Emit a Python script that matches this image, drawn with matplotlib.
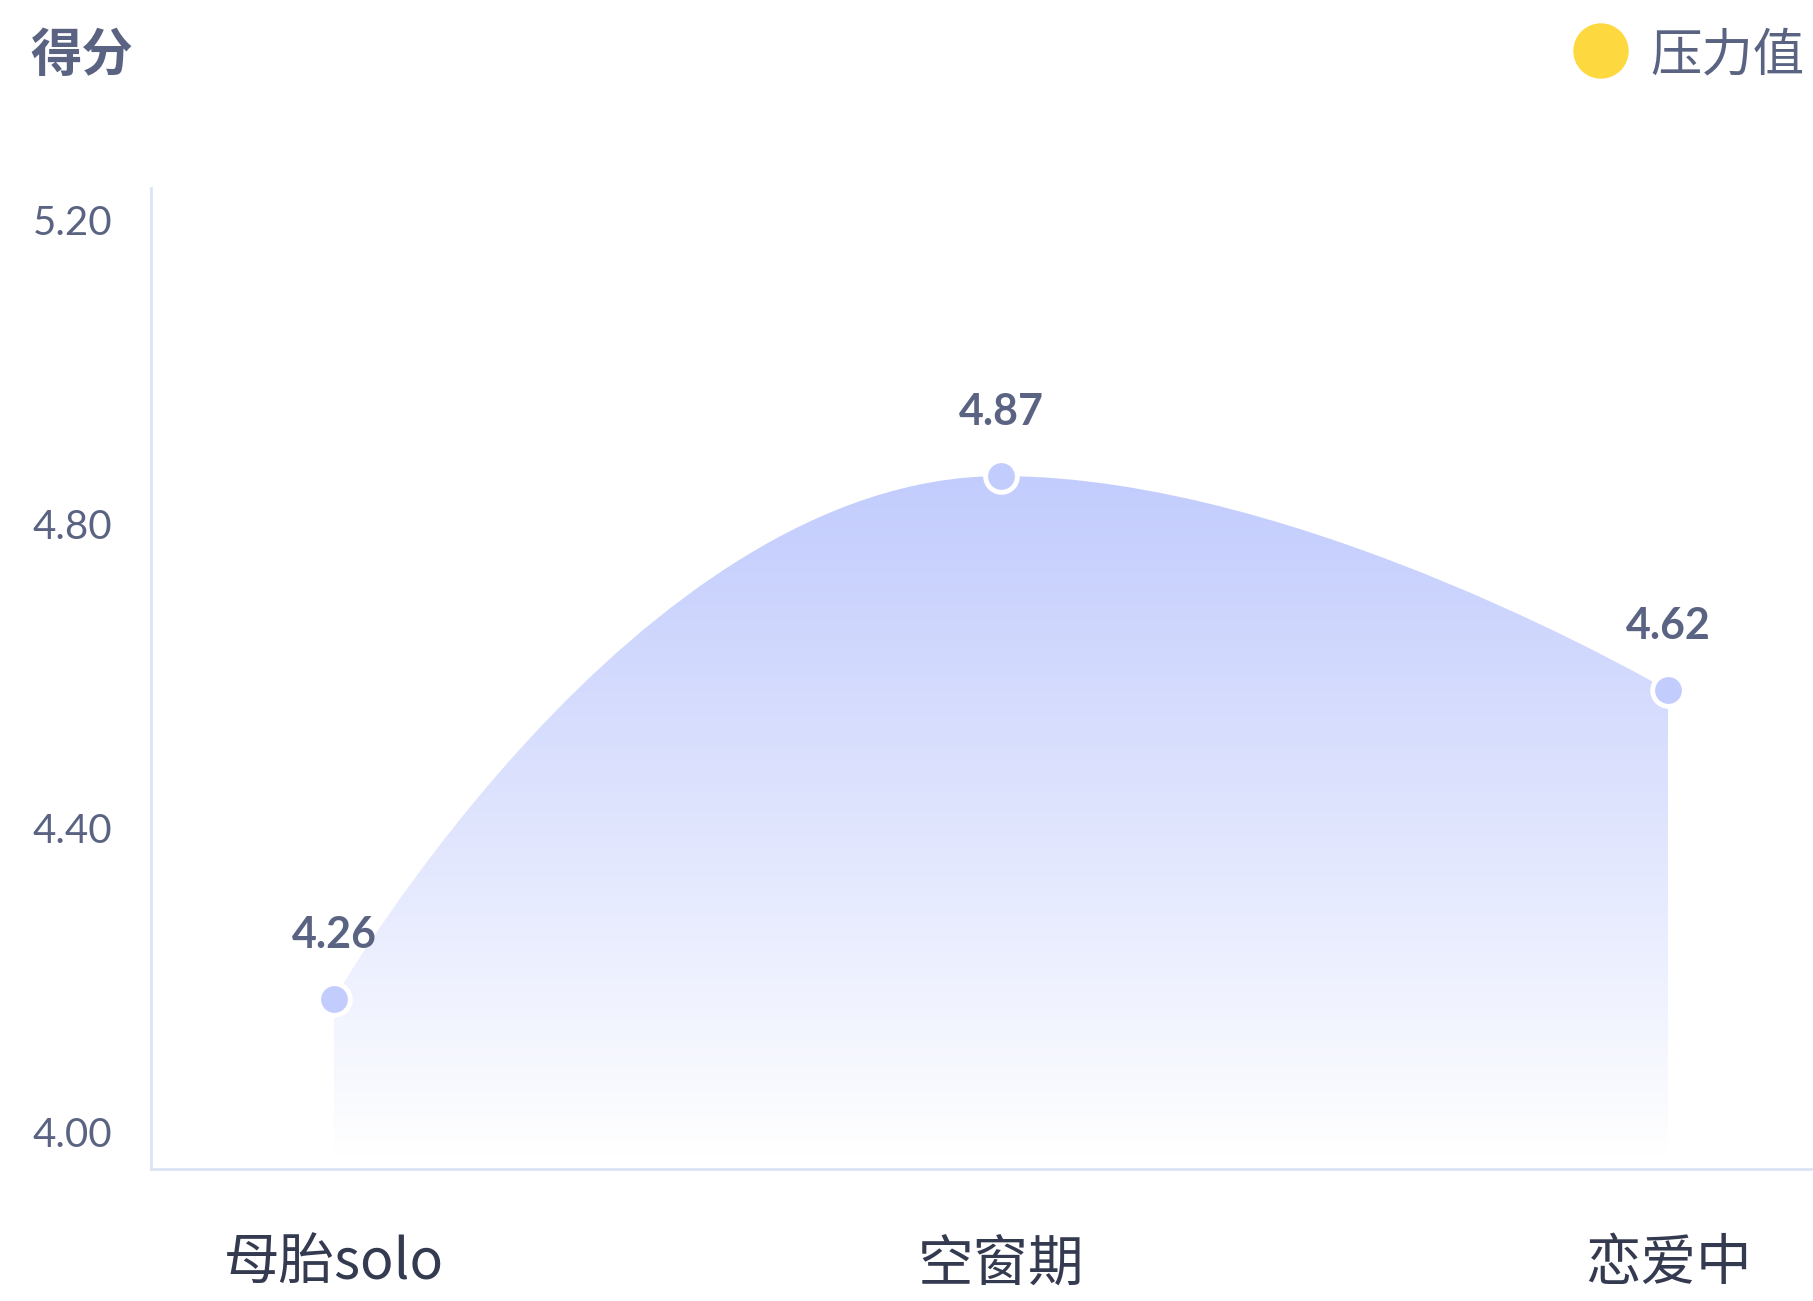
import numpy as np
import matplotlib
matplotlib.use("Agg")
from matplotlib import pyplot as plt
from matplotlib.path import Path
from matplotlib.patches import PathPatch, Ellipse

plt.rcParams['font.family'] = ['Noto Sans CJK SC', 'DejaVu Sans']

# 数据
categories = ["母胎solo", "空窗期", "恋爱中"]
values = [4.26, 4.87, 4.62]
ytick_labels = ["4.00", "4.40", "4.80", "5.20"]
series_name = "压力值"
y_title = "得分"

label_color = "#5a6482"
xlabel_color = "#343a4f"
axis_color = "#dce3f5"
point_color = "#c3cdfd"
legend_color = "#fed83f"


def smooth_path(pts, smooth=0.5):
    """echarts 的平滑算法（控制点限制在相邻点之间），在像素坐标里计算"""
    n = len(pts)
    verts = [pts[0]]
    codes = [Path.MOVETO]
    cp0 = pts[0]
    for i in range(1, n):
        x, y = pts[i]
        px, py = pts[i - 1]
        if i == n - 1:
            cp1 = (x, y)
            nxt = (x, y)
        else:
            nx, ny = pts[i + 1]
            vx, vy = nx - px, ny - py
            len_prev = np.hypot(x - px, y - py)
            len_next = np.hypot(nx - x, ny - y)
            ratio = len_next / (len_next + len_prev)
            ncx = x + vx * smooth * ratio
            ncy = y + vy * smooth * ratio
            ncx = max(min(ncx, max(nx, x)), min(nx, x))
            ncy = max(min(ncy, max(ny, y)), min(ny, y))
            vx, vy = ncx - x, ncy - y
            c1x = x - vx * len_prev / len_next
            c1y = y - vy * len_prev / len_next
            c1x = max(min(c1x, max(px, x)), min(px, x))
            c1y = max(min(c1y, max(py, y)), min(py, y))
            vx, vy = x - c1x, y - c1y
            ncx = x + vx * len_next / len_prev
            ncy = y + vy * len_next / len_prev
            cp1 = (c1x, c1y)
            nxt = (ncx, ncy)
        verts += [cp0, cp1, (x, y)]
        codes += [Path.CURVE4] * 3
        cp0 = nxt
    return np.array(verts, dtype=float), codes


fig = plt.figure(figsize=(18.13, 13.01), dpi=100)
ax = fig.add_axes([151 / 1813, 1 - 1169 / 1301, 1 - 151 / 1813, (1169 - 188) / 1301])
x = np.arange(len(categories))
ax.set_xlim(-0.2744, 2.2174)
ax.set_ylim(4.0617, 5.206)
base = 4.078

# 面积（渐变）
pix = ax.transData.transform(np.column_stack([x, values]))
verts, codes = smooth_path(pix)
verts = ax.transData.inverted().transform(verts)
verts = list(verts) + [(x[-1], base), (x[0], base), tuple(verts[0])]
codes = list(codes) + [Path.LINETO, Path.LINETO, Path.CLOSEPOLY]
area = PathPatch(Path(verts, codes), facecolor="none", edgecolor="none")
ax.add_patch(area)
top_rgb = np.array([195, 205, 253]) / 255
grad = np.linspace(0, 1, 256)
img = np.zeros((256, 1, 3))
for k in range(3):
    img[:, 0, k] = top_rgb[k] + (1 - top_rgb[k]) * grad ** 1.1
im = ax.imshow(img, extent=[x[0], x[-1], base, max(values)], origin="upper",
               aspect="auto", interpolation="bicubic", zorder=1)
im.set_clip_path(area)

# 点
ax.scatter(x, values, s=520, color=point_color, edgecolors="white", linewidths=3.5, zorder=3)
for xi, v in zip(x, values):
    ax.annotate(f"{v:.2f}", (xi, v), xytext=(0, 46), textcoords="offset points",
                ha="center", va="center", fontsize=31, fontweight="bold",
                color=label_color, family=["Lato", "DejaVu Sans"])

ax.set_xticks(x)
ax.set_xticklabels(categories, fontsize=40, color=xlabel_color)
ax.tick_params(axis="x", length=0, pad=48)
ax.set_yticks([])
for s in ["top", "right"]:
    ax.spines[s].set_visible(False)
for s in ["left", "bottom"]:
    ax.spines[s].set_color(axis_color)
    ax.spines[s].set_linewidth(2)

# y 轴刻度标签
ax2 = ax.twinx()
ax2.set_ylim(3.951, 5.242)
ax2.yaxis.tick_left()
ax2.set_yticks([float(t) for t in ytick_labels])
ax2.set_yticklabels(ytick_labels, fontsize=29, color=label_color, family=["Lato", "DejaVu Sans"])
ax2.tick_params(axis="y", length=0, pad=28)
for s in ax2.spines.values():
    s.set_visible(False)

# 标题和图例
fig.text(30 / 1813, 1 - 55 / 1301, y_title, fontsize=37, fontweight="bold",
         color=label_color, ha="left", va="center")
fig.patches.append(Ellipse((1601 / 1813, 1 - 51 / 1301), 54 / 1813, 54 / 1301,
                           color=legend_color, transform=fig.transFigure, figure=fig))
fig.text(1650 / 1813, 1 - 56 / 1301, series_name, fontsize=37, color=label_color,
         ha="left", va="center")

fig.savefig("out.png", dpi=100)
